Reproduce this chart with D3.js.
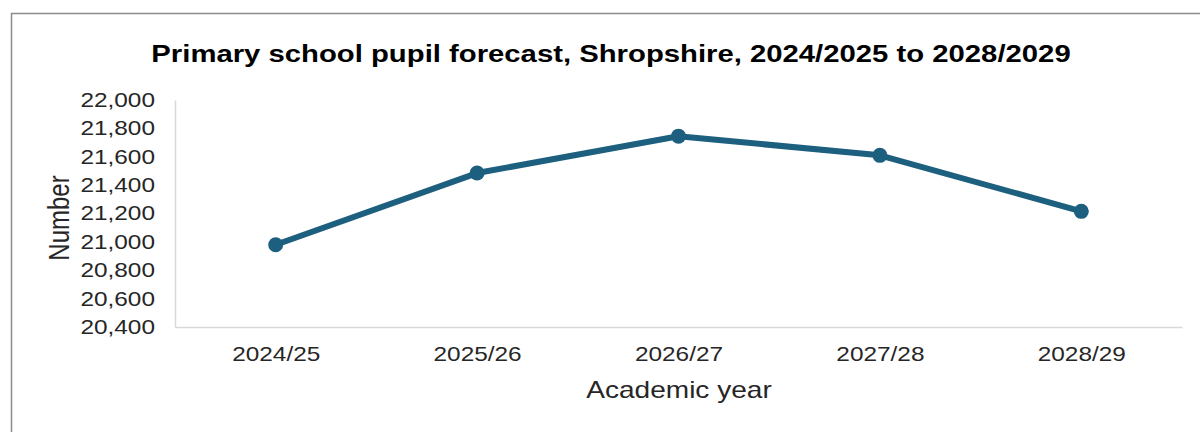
<!DOCTYPE html>
<html>
<head>
<meta charset="utf-8">
<script src="https://cdn.jsdelivr.net/npm/d3@7"></script>
<style>
  html, body { margin: 0; padding: 0; background: #fff; }
  svg { display: block; font-family: "Liberation Sans", Arial, sans-serif; }
</style>
</head>
<body>
<svg id="chart"></svg>
<script>
const years = ['2024/25', '2025/26', '2026/27', '2027/28', '2028/29'];
const pupils = [20980, 21485, 21745, 21610, 21215];
const yTicks = [20400, 20600, 20800, 21000, 21200, 21400, 21600, 21800, 22000];

const width = 1200;
const height = 432;
const lineColor = '#1d5f7e';
const axisColor = '#d9d9d9';
const textColor = '#262626';
// the source picture is stretched sideways, so text is widened to match
const SX = 1.22;

const svg = d3.select('#chart')
    .attr('width', width)
    .attr('height', height);

// outer frame
svg.append('rect')
    .attr('x', 11.5)
    .attr('y', 13.5)
    .attr('width', 1300)
    .attr('height', 600)
    .attr('fill', '#fff')
    .attr('stroke', '#8c8c8c')
    .attr('stroke-width', 1.5);

const plot = { left: 175, right: 1182, top: 100, bottom: 327 };

const x = d3.scalePoint()
    .domain(years)
    .range([plot.left, plot.right])
    .padding(0.5);

const y = d3.scaleLinear()
    .domain([20400, 22000])
    .range([plot.bottom, plot.top]);

// title
svg.append('text')
    .attr('transform', `translate(611,62) scale(${SX},1)`)
    .attr('text-anchor', 'middle')
    .style('font-size', '24px')
    .style('font-weight', 'bold')
    .style('fill', '#000')
    .text('Primary school pupil forecast, Shropshire, 2024/2025 to 2028/2029');

// y axis
const yAxis = svg.append('g')
    .attr('transform', `translate(${plot.left},0)`)
    .call(d3.axisLeft(y).tickValues(yTicks).tickSize(0).tickFormat(d3.format(',')));

yAxis.select('.domain').attr('stroke', axisColor).attr('stroke-width', 1.5);
yAxis.selectAll('text')
    .attr('x', -20 / SX)
    .attr('transform', `scale(${SX},1)`)
    .style('font-size', '20px')
    .style('fill', textColor)
    .style('font-family', '"Liberation Sans", Arial, sans-serif');

// x axis
const xAxis = svg.append('g')
    .attr('transform', `translate(0,${plot.bottom})`)
    .call(d3.axisBottom(x).tickSize(0).tickPadding(20));

xAxis.select('.domain').attr('stroke', axisColor).attr('stroke-width', 1.5);
xAxis.selectAll('text')
    .attr('transform', `scale(${SX},1)`)
    .style('font-size', '20px')
    .style('fill', textColor)
    .style('font-family', '"Liberation Sans", Arial, sans-serif');

// axis titles
svg.append('text')
    .attr('transform', `translate(679,398) scale(${SX},1)`)
    .attr('text-anchor', 'middle')
    .style('font-size', '23px')
    .style('fill', textColor)
    .text('Academic year');

svg.append('text')
    .attr('transform', `translate(69,218) rotate(-90) scale(1,${SX})`)
    .attr('text-anchor', 'middle')
    .style('font-size', '24px')
    .style('fill', textColor)
    .text('Number');

// series line and markers
const data = years.map((yr, i) => ({ year: yr, value: pupils[i] }));

svg.append('path')
    .datum(data)
    .attr('fill', 'none')
    .attr('stroke', lineColor)
    .attr('stroke-width', 6)
    .attr('stroke-linejoin', 'round')
    .attr('d', d3.line().x(d => x(d.year)).y(d => y(d.value)));

svg.selectAll('circle.pt')
    .data(data)
    .enter()
    .append('circle')
    .attr('class', 'pt')
    .attr('cx', d => x(d.year))
    .attr('cy', d => y(d.value))
    .attr('r', 7.5)
    .attr('fill', lineColor);
</script>
</body>
</html>
